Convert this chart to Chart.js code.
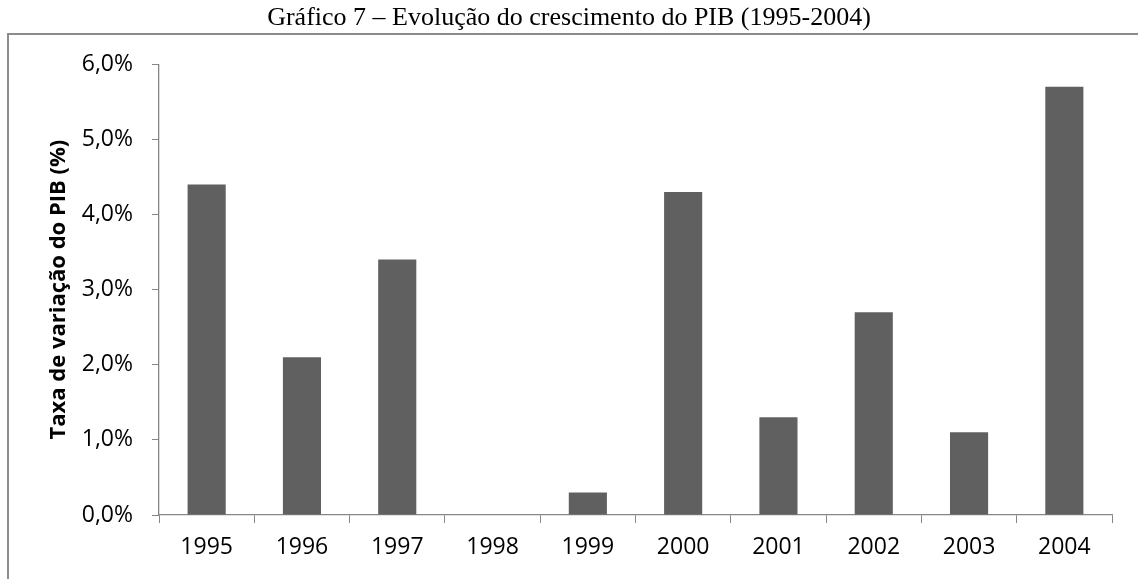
<!DOCTYPE html>
<html lang="pt">
<head>
<meta charset="utf-8">
<title>Gráfico 7 – Evolução do crescimento do PIB (1995-2004)</title>
<script src="https://cdn.jsdelivr.net/npm/chart.js@4.4.1/dist/chart.umd.min.js"></script>
<style>
  html, body { margin: 0; padding: 0; background: #fff; }
  #wrap { position: relative; width: 1138px; height: 579px; }
</style>
</head>
<body>
<div id="wrap"><canvas id="chart"></canvas></div>
<script>
// data
const years = ['1995', '1996', '1997', '1998', '1999', '2000', '2001', '2002', '2003', '2004'];
const pibGrowth = [4.4, 2.1, 3.4, 0.0, 0.3, 4.3, 1.3, 2.7, 1.1, 5.7];
const yTicks = [0, 1, 2, 3, 4, 5, 6];

const axisGray = '#868686';

// grey frame around the chart (clipped by the page on the right and bottom)
const framePlugin = {
  id: 'frame',
  beforeDraw(chart) {
    const ctx = chart.ctx;
    ctx.save();
    ctx.strokeStyle = '#8c8c8c';
    ctx.lineWidth = 2;
    ctx.beginPath();
    ctx.moveTo(8, chart.height);
    ctx.lineTo(8, 34);
    ctx.lineTo(chart.width, 34);
    ctx.stroke();
    ctx.restore();
  }
};

new Chart(document.getElementById('chart'), {
  type: 'bar',
  data: {
    labels: years,
    datasets: [{
      data: pibGrowth,
      backgroundColor: '#606060',
      borderWidth: 0,
      barPercentage: 0.4,
      categoryPercentage: 1.0
    }]
  },
  options: {
    responsive: true,
    maintainAspectRatio: false,
    animation: false,
    layout: { padding: { left: 26, right: 26, top: 0, bottom: 0 } },
    plugins: {
      legend: { display: false },
      tooltip: { enabled: false },
      title: {
        display: true,
        text: 'Gráfico 7 – Evolução do crescimento do PIB (1995-2004)',
        color: '#000',
        font: { family: '"Liberation Serif", "Times New Roman", serif', size: 26, weight: 'normal' },
        padding: { top: 3, bottom: 30 }
      }
    },
    scales: {
      x: {
        grid: {
          display: true,
          drawOnChartArea: false,
          drawTicks: true,
          tickLength: 8,
          color: axisGray,
          offset: true
        },
        border: { display: true, color: axisGray, width: 1.3 },
        ticks: {
          color: '#000',
          padding: 11,
          font: { family: '"Open Sans", sans-serif', size: 23 }
        },
        afterFit(scale) { scale.height = 64; }
      },
      y: {
        min: 0,
        max: 6,
        afterBuildTicks(scale) { scale.ticks = yTicks.map(v => ({ value: v })); },
        grid: {
          display: true,
          drawOnChartArea: false,
          drawTicks: true,
          tickLength: 7,
          color: axisGray
        },
        border: { display: true, color: axisGray, width: 1.3 },
        ticks: {
          color: '#000',
          padding: 19,
          font: { family: '"Open Sans", sans-serif', size: 23 },
          callback: v => v.toFixed(1).replace('.', ',') + '%'
        },
        title: {
          display: true,
          text: 'Taxa de variação do PIB (%)',
          color: '#000',
          font: { family: '"Open Sans", sans-serif', size: 22, weight: 'bold' },
          padding: { top: 20, bottom: 0 }
        },
        afterFit(scale) { scale.width = 133; }
      }
    }
  },
  plugins: [framePlugin]
});
</script>
</body>
</html>
